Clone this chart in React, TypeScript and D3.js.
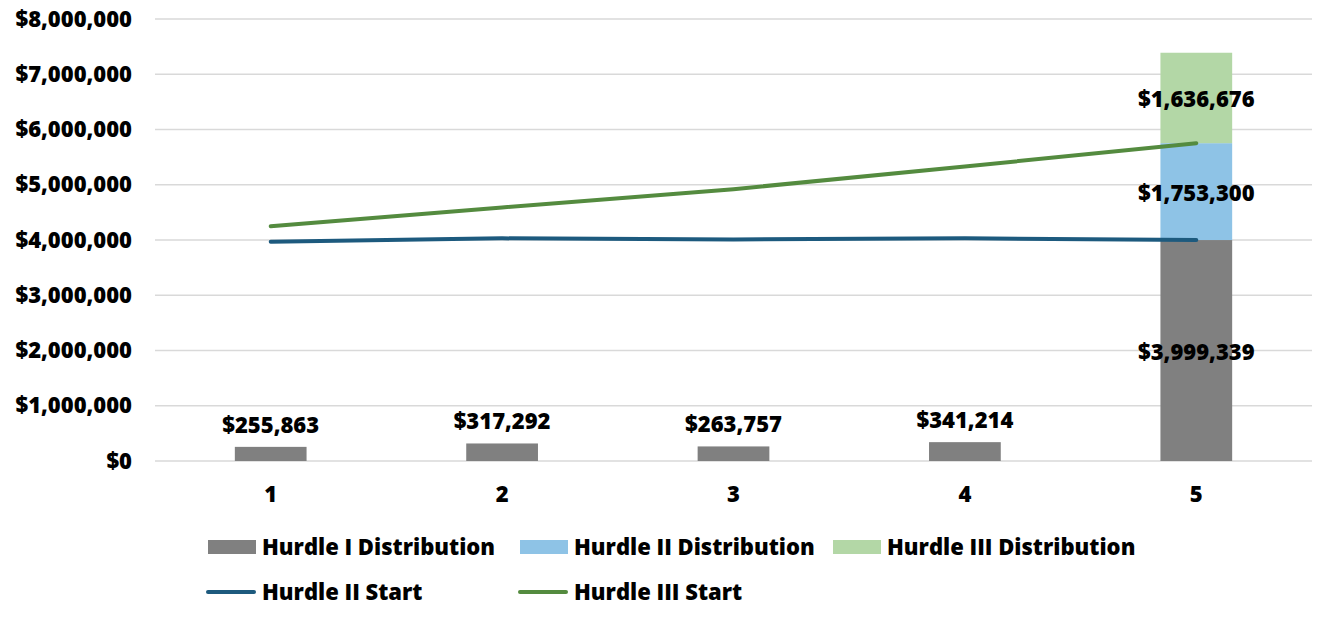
import React from "react";
import * as d3 from "d3";

const categories = ["1", "2", "3", "4", "5"];
const hurdle1Dist = [255863, 317292, 263757, 341214, 3999339];
const hurdle2Dist = [0, 0, 0, 0, 1753300];
const hurdle3Dist = [0, 0, 0, 0, 1636676];
const hurdle2Start = [3970000, 4030000, 4010000, 4030000, 3999339];
const hurdle3Start = [4250000, 4590000, 4920000, 5330000, 5752639];
const yTicks = [0, 1000000, 2000000, 3000000, 4000000, 5000000, 6000000, 7000000, 8000000];

const W = 1320, H = 619;
const M = { left: 155, right: 8, top: 19, bottom: 158 };
const FONT = "'Open Sans', sans-serif";
const colors = {
  h1: "#808080",
  h2: "#8ec3e6",
  h3: "#b3d7a6",
  l2: "#1d5a7e",
  l3: "#548b3f",
  grid: "#d9d9d9",
};
const fmt = (v: number) => "$" + d3.format(",")(v);

export default function App() {
  const x = d3.scaleBand<string>().domain(categories).range([M.left, W - M.right]).paddingInner(0.69).paddingOuter(0.345);
  const y = d3.scaleLinear().domain([0, 8000000]).range([H - M.bottom, M.top]);
  const cx = (c: string) => (x(c) as number) + x.bandwidth() / 2;

  const stack = d3.stack<any>().keys(["h1", "h2", "h3"])(
    categories.map((c, i) => ({ c, h1: hurdle1Dist[i], h2: hurdle2Dist[i], h3: hurdle3Dist[i] }))
  );
  const line = d3.line<number>().x((_, i) => cx(categories[i])).y((d) => y(d));

  const legend1 = [
    { label: "Hurdle I Distribution", color: colors.h1, x: 208 },
    { label: "Hurdle II Distribution", color: colors.h2, x: 520 },
    { label: "Hurdle III Distribution", color: colors.h3, x: 833 },
  ];
  const legend2 = [
    { label: "Hurdle II Start", color: colors.l2, x: 206 },
    { label: "Hurdle III Start", color: colors.l3, x: 518 },
  ];
  const textStyle = { fontFamily: FONT, fontWeight: 800, fontSize: 22, fill: "#000" } as any;

  return (
    <svg width={W} height={H} style={{ position: "absolute", left: 0, top: 0, background: "#fff" }}>
      {yTicks.map((t) => (
        <g key={t}>
          <line x1={M.left} x2={W - M.right} y1={y(t)} y2={y(t)} stroke={colors.grid} strokeWidth={1.5} />
          <text x={132} y={y(t)} dy="0.35em" textAnchor="end" {...textStyle}>{fmt(t)}</text>
        </g>
      ))}
      {stack.map((s, si) => (
        <g key={si} fill={[colors.h1, colors.h2, colors.h3][si]}>
          {s.map((d, i) => d[1] - d[0] > 0 ? (
            <rect key={i} x={x(categories[i])} width={x.bandwidth()} y={y(d[1])} height={y(d[0]) - y(d[1])} />
          ) : null)}
        </g>
      ))}
      <path d={line(hurdle2Start) || ""} fill="none" stroke={colors.l2} strokeWidth={4} strokeLinecap="round" />
      <path d={line(hurdle3Start) || ""} fill="none" stroke={colors.l3} strokeWidth={4} strokeLinecap="round" />
      {categories.map((c) => (
        <text key={c} x={cx(c)} y={494} dy="0.35em" textAnchor="middle" {...textStyle}>{c}</text>
      ))}
      {categories.map((c, i) => i < 4 ? (
        <text key={"l" + c} x={cx(c)} y={y(hurdle1Dist[i]) - 14} textAnchor="middle" {...textStyle}>{fmt(hurdle1Dist[i])}</text>
      ) : null)}
      {stack.map((s, si) => {
        const d = s[4];
        const vals = [hurdle1Dist, hurdle2Dist, hurdle3Dist][si];
        return (
          <text key={"s" + si} x={cx(categories[4])} y={(y(d[0]) + y(d[1])) / 2 + 1.5} dy="0.35em" textAnchor="middle" {...textStyle}>{fmt(vals[4])}</text>
        );
      })}
      {legend1.map((l) => (
        <g key={l.label}>
          <rect x={l.x} y={540} width={48} height={14} fill={l.color} />
          <text x={l.x + 54} y={547} dy="0.35em" {...textStyle}>{l.label}</text>
        </g>
      ))}
      {legend2.map((l) => (
        <g key={l.label}>
          <line x1={l.x + 2} x2={l.x + 48} y1={592} y2={592} stroke={l.color} strokeWidth={4} strokeLinecap="round" />
          <text x={l.x + 56} y={592} dy="0.35em" {...textStyle}>{l.label}</text>
        </g>
      ))}
    </svg>
  );
}
